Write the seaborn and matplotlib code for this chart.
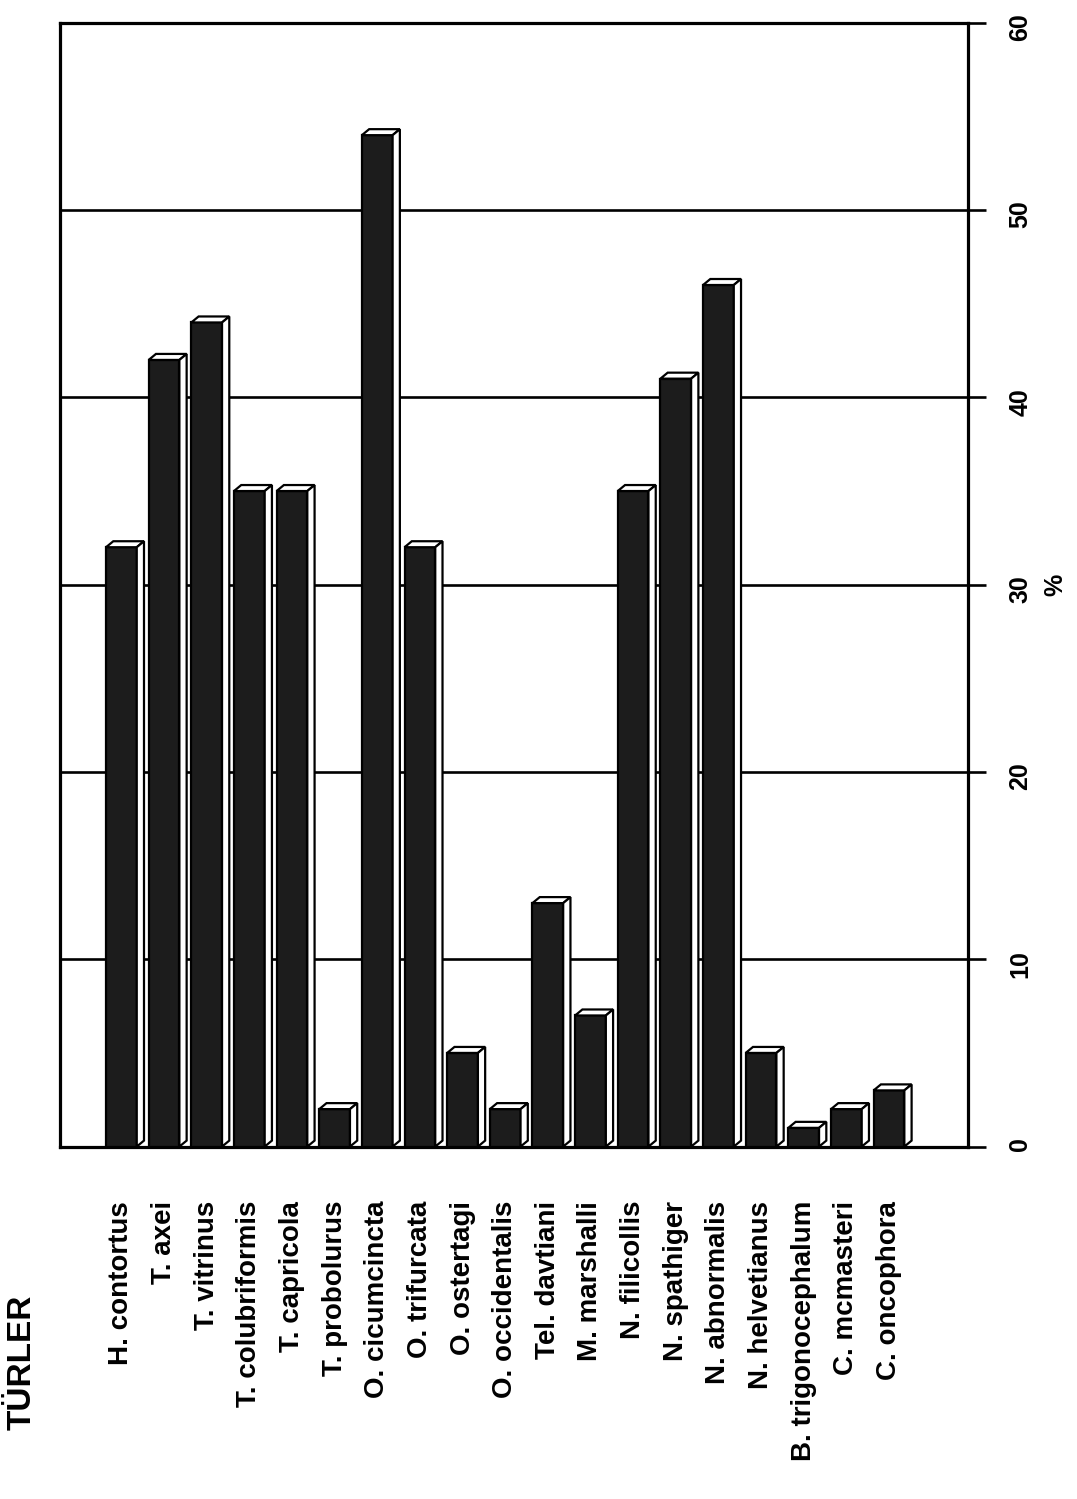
import numpy as np
import pandas as pd
import seaborn as sns
import matplotlib.pyplot as plt
from matplotlib.patches import Polygon

# species (TÜRLER) and prevalence (%)
species = ["H. contortus", "T. axei", "T. vitrinus", "T. colubriformis",
           "T. capricola", "T. probolurus", "O. cicumcincta", "O. trifurcata",
           "O. ostertagi", "O. occidentalis", "Tel. davtiani", "M. marshalli",
           "N. filicollis", "N. spathiger", "N. abnormalis", "N. helvetianus",
           "B. trigonocephalum", "C. mcmasteri", "C. oncophora"]
percent = [32, 42, 44, 35, 35, 2, 54, 32, 5, 2, 13, 7, 35, 41, 46, 5, 1, 2, 3]
y_ticks = [0, 10, 20, 30, 40, 50, 60]

df = pd.DataFrame({"Tur": species, "Yuzde": percent})

sns.set_style("white")
plt.rcParams["font.family"] = ["Liberation Sans", "DejaVu Sans"]
plt.rcParams["font.weight"] = "bold"
plt.rcParams["text.color"] = "black"
plt.rcParams["xtick.color"] = "black"
plt.rcParams["ytick.color"] = "black"
plt.rcParams["axes.labelcolor"] = "black"

fig = plt.figure(figsize=(10.77, 14.99), dpi=100)
ax = fig.add_axes([0.0557, 0.2351, 0.843, 0.7497])

sns.barplot(data=df, x="Tur", y="Yuzde", color="#1c1c1c", saturation=1,
            width=0.72, edgecolor="black", linewidth=1.6, ax=ax, zorder=3)

# fake 3D: white top and side faces on each bar
dx, dy = 0.17, 0.32
for p in list(ax.patches):
    x0, w, h = p.get_x(), p.get_width(), p.get_height()
    top = Polygon([(x0, h), (x0 + dx, h + dy), (x0 + w + dx, h + dy), (x0 + w, h)],
                  closed=True, facecolor="white", edgecolor="black", lw=1.6, zorder=4)
    side = Polygon([(x0 + w, 0), (x0 + w + dx, dy), (x0 + w + dx, h + dy), (x0 + w, h)],
                   closed=True, facecolor="white", edgecolor="black", lw=1.6, zorder=4)
    ax.add_patch(top)
    ax.add_patch(side)

ax.set_xlim(-1.44, 19.85)
ax.set_ylim(0, 60)
ax.set_yticks(y_ticks)
ax.yaxis.tick_right()
ax.yaxis.set_label_position("right")
ax.grid(axis="y", color="black", linewidth=1.9, zorder=1)
ax.grid(axis="x", visible=False)

for s in ax.spines.values():
    s.set_color("black")
    s.set_linewidth(2.3)

ax.tick_params(axis="y", direction="out", length=13, width=1.9, pad=16,
               labelsize=18, labelrotation=90, color="black")
ax.tick_params(axis="x", direction="out", length=17, width=1.9, pad=22,
               labelsize=20, labelrotation=90, color="black")
for t in ax.get_xticklabels() + ax.get_yticklabels():
    t.set_fontweight("bold")
    t.set_color("black")

ax.set_xlabel("")
ax.set_ylabel("%", rotation=90, fontsize=18, fontweight="bold", color="black")
ax.yaxis.set_label_coords(1.083, 0.5)

fig.text(0.0204, 0.0914, "TÜRLER", rotation=90, fontsize=24, fontweight="bold",
         ha="center", va="center", color="black")

fig.savefig("out.png", dpi=100, facecolor="white")
